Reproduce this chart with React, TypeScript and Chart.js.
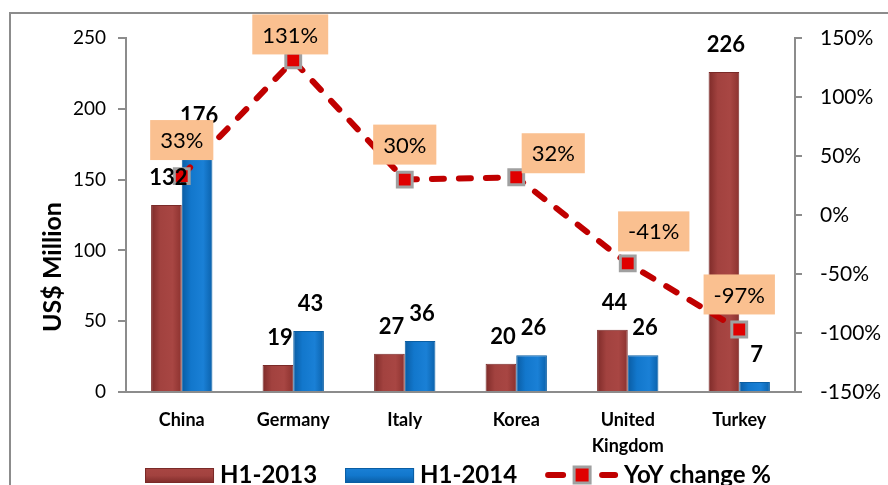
import React, { useEffect, useRef } from "react";
import { Chart, registerables } from "chart.js";

Chart.register(...registerables);

const categories: (string | string[])[] = ["China", "Germany", "Italy", "Korea", ["United", "Kingdom"], "Turkey"];
const h1_2013: number[] = [132, 19, 27, 20, 44, 226];
const h1_2014: number[] = [176, 43, 36, 26, 26, 7];
const yoyChange: number[] = [33, 131, 30, 32, -41, -97];
const leftTicks = { min: 0, max: 250, step: 50 };
const rightTicks = { min: -150, max: 150, step: 50 };
const seriesNames = ["H1-2013", "H1-2014", "YoY change %"];

// label placement (style only): offset of label box centre from its point
const yoyLabelDx = [0, -3, 0, 37, 26, 0];
const yoyLabelDy = [-36, -26, -35, -24, -32, -35];

const FONT = "Lato, 'Noto Sans', sans-serif";
const RED_BORDER = "#7A2A28";
const BLUE_BORDER = "#0A5EA3";
const LINE_RED = "#C00000";
const AXIS_GRAY = "#8C8C8C";

const RED_STOPS = ["#7E2B29", "#A2423F", "#A84643", "#8C322F"];
const BLUE_STOPS = ["#0A5CA3", "#1277CC", "#1A80D6", "#0B62AC"];

function barGradient(c: any, side: number, stops: string[]) {
  const chart = c.chart;
  const xs = chart.scales && chart.scales.x;
  if (!xs || c.dataIndex === undefined || !isFinite(xs.getPixelForValue(c.dataIndex))) return stops[1];
  const center = xs.getPixelForValue(c.dataIndex);
  const half = (xs.width / categories.length) * 0.55 / 2;
  const x0 = side < 0 ? center - half : center;
  const x1 = side < 0 ? center : center + half;
  const g = chart.ctx.createLinearGradient(x0, 0, x1, 0);
  g.addColorStop(0, stops[0]);
  g.addColorStop(0.3, stops[1]);
  g.addColorStop(0.7, stops[2]);
  g.addColorStop(1, stops[3]);
  return g;
}

const overlay = {
  id: "overlay",
  beforeDraw(chart: any) {
    const { ctx, width, height } = chart;
    ctx.save();
    ctx.fillStyle = "#ffffff";
    ctx.fillRect(0, 0, width, height);
    // outer frame
    ctx.strokeStyle = AXIS_GRAY;
    ctx.lineWidth = 2;
    ctx.beginPath();
    ctx.moveTo(10, height);
    ctx.lineTo(10, 13);
    ctx.lineTo(width, 13);
    ctx.stroke();
    // y title
    const area = chart.chartArea;
    ctx.translate(53, (area.top + area.bottom) / 2 + 52);
    ctx.rotate(-Math.PI / 2);
    ctx.fillStyle = "#000";
    ctx.font = `bold 25px ${FONT}`;
    ctx.textAlign = "center";
    ctx.textBaseline = "middle";
    ctx.fillText("US$ Million", 0, 0);
    ctx.restore();
  },
  afterDatasetsDraw(chart: any) {
    const { ctx } = chart;
    // bar value labels (drawn above the line markers)
    ctx.save();
    ctx.fillStyle = "#000";
    ctx.font = `bold 22px ${FONT}`;
    ctx.textAlign = "center";
    ctx.textBaseline = "middle";
    chart.data.datasets.forEach((ds: any, di: number) => {
      if (ds.type !== "bar") return;
      const meta = chart.getDatasetMeta(di);
      meta.data.forEach((el: any, i: number) => {
        ctx.fillText(String(ds.data[i]), el.x + 2, el.y - 27);
      });
    });
    ctx.restore();

    // YoY label boxes
    const idx = chart.data.datasets.findIndex((d: any) => d.type === "line");
    const meta = chart.getDatasetMeta(idx);
    const ds = chart.data.datasets[idx];
    ctx.save();
    ctx.font = `22px ${FONT}`;
    ctx.textAlign = "center";
    ctx.textBaseline = "middle";
    meta.data.forEach((el: any, i: number) => {
      const text = `${ds.data[i]}%`;
      const w = ctx.measureText(text).width + 20;
      const h = 40;
      const cx = el.x + yoyLabelDx[i];
      const cy = el.y + yoyLabelDy[i];
      ctx.fillStyle = "#FAC090";
      ctx.fillRect(cx - w / 2, cy - h / 2, w, h);
      ctx.fillStyle = "#000";
      ctx.fillText(text, cx, cy + 1);
    });
    ctx.restore();
  },
  afterDraw(chart: any) {
    const { ctx } = chart;
    ctx.save();
    ctx.font = `bold 24px ${FONT}`;
    ctx.textBaseline = "middle";
    ctx.textAlign = "left";
    const items = [
      { kind: "bar", stops: RED_STOPS, border: RED_BORDER, label: seriesNames[0] },
      { kind: "bar", stops: BLUE_STOPS, border: BLUE_BORDER, label: seriesNames[1] },
      { kind: "line", stops: [], border: LINE_RED, label: seriesNames[2] },
    ];
    const sampleW = (k: string) => (k === "bar" ? 69 : 73);
    const gap = 6;
    const itemGap = 28;
    const widths = items.map((it) => sampleW(it.kind) + gap + ctx.measureText(it.label).width);
    const total = widths.reduce((a, b) => a + b, 0) + itemGap * (items.length - 1);
    let x = 458 - total / 2;
    const y = 475;
    items.forEach((it, i) => {
      if (it.kind === "bar") {
        const g = ctx.createLinearGradient(0, y - 7, 0, y + 8);
        g.addColorStop(0, it.stops[2]);
        g.addColorStop(0.5, it.stops[1]);
        g.addColorStop(1, it.stops[0]);
        ctx.fillStyle = g;
        ctx.strokeStyle = it.border;
        ctx.lineWidth = 1;
        ctx.fillRect(x, y - 7, 69, 15);
        ctx.strokeRect(x + 0.5, y - 6.5, 68, 14);
      } else {
        ctx.strokeStyle = LINE_RED;
        ctx.lineWidth = 6;
        ctx.lineCap = "round";
        ctx.beginPath();
        ctx.moveTo(x + 3, y);
        ctx.lineTo(x + 18, y);
        ctx.moveTo(x + 57, y);
        ctx.lineTo(x + 70, y);
        ctx.stroke();
        ctx.fillStyle = "#E00000";
        ctx.strokeStyle = "#A0A0A0";
        ctx.lineWidth = 3;
        ctx.fillRect(x + 29, y - 8, 16, 16);
        ctx.strokeRect(x + 29, y - 8, 16, 16);
      }
      ctx.fillStyle = "#000";
      ctx.fillText(it.label, x + sampleW(it.kind) + gap, y);
      x += widths[i] + itemGap;
    });
    ctx.restore();
  },
};

export default function App() {
  const ref = useRef<HTMLCanvasElement | null>(null);
  useEffect(() => {
    document.body.style.margin = "0";
    if (!ref.current) return;
    const chart = new Chart(ref.current, {
      type: "bar",
      data: {
        labels: categories as any,
        datasets: [
          {
            type: "line",
            label: seriesNames[2],
            data: yoyChange,
            yAxisID: "y1",
            borderColor: LINE_RED,
            borderWidth: 6,
            borderDash: [12, 15],
            borderCapStyle: "round",
            pointStyle: "rect",
            pointRadius: 10.5,
            pointBackgroundColor: "#E00000",
            pointBorderColor: "#A0A0A0",
            pointBorderWidth: 3,
            fill: false,
            tension: 0,
            order: 0,
          } as any,
          {
            type: "bar",
            label: seriesNames[0],
            data: h1_2013,
            yAxisID: "y",
            backgroundColor: (c: any) => barGradient(c, -1, RED_STOPS),
            borderColor: RED_BORDER,
            borderWidth: 1,
            categoryPercentage: 0.55,
            barPercentage: 1,
            order: 1,
          },
          {
            type: "bar",
            label: seriesNames[1],
            data: h1_2014,
            yAxisID: "y",
            backgroundColor: (c: any) => barGradient(c, 1, BLUE_STOPS),
            borderColor: BLUE_BORDER,
            borderWidth: 1,
            categoryPercentage: 0.55,
            barPercentage: 1,
            order: 2,
          },
        ],
      },
      options: {
        responsive: false,
        animation: false,
        devicePixelRatio: 1,
        layout: { padding: { top: 38, left: 0, right: 0, bottom: 0 } },
        plugins: {
          legend: { display: false },
          tooltip: { enabled: false },
          title: { display: false },
        },
        scales: {
          x: {
            afterFit: (s: any) => {
              s.height = 93;
            },
            grid: { display: false, drawTicks: false },
            border: { display: true, color: AXIS_GRAY, width: 2 },
            ticks: {
              color: "#000",
              font: { family: FONT, size: 18, weight: "bold", lineHeight: 1.45 },
              padding: 15,
              maxRotation: 0,
              autoSkip: false,
            },
          },
          y: {
            position: "left",
            min: leftTicks.min,
            max: leftTicks.max,
            afterFit: (s: any) => {
              s.width = 126;
            },
            grid: { drawOnChartArea: false, tickLength: 8, color: AXIS_GRAY, lineWidth: 2 },
            border: { display: true, color: AXIS_GRAY, width: 2 },
            ticks: {
              stepSize: leftTicks.step,
              color: "#000",
              font: { family: FONT, size: 19 },
              padding: 12,
            },
          },
          y1: {
            position: "right",
            min: rightTicks.min,
            max: rightTicks.max,
            afterFit: (s: any) => {
              s.width = 93;
            },
            grid: { drawOnChartArea: false, tickLength: 7, color: AXIS_GRAY, lineWidth: 2 },
            border: { display: true, color: AXIS_GRAY, width: 2 },
            ticks: {
              stepSize: rightTicks.step,
              color: "#000",
              font: { family: FONT, size: 21 },
              padding: 18,
              callback: (v: any) => `${v}%`,
            },
          },
        },
      } as any,
      plugins: [overlay],
    });
    return () => chart.destroy();
  }, []);
  return (
    <div style={{ position: "absolute", left: 0, top: 0, width: 888, height: 485 }}>
      <canvas ref={ref} width={888} height={485} style={{ width: 888, height: 485 }} />
    </div>
  );
}
